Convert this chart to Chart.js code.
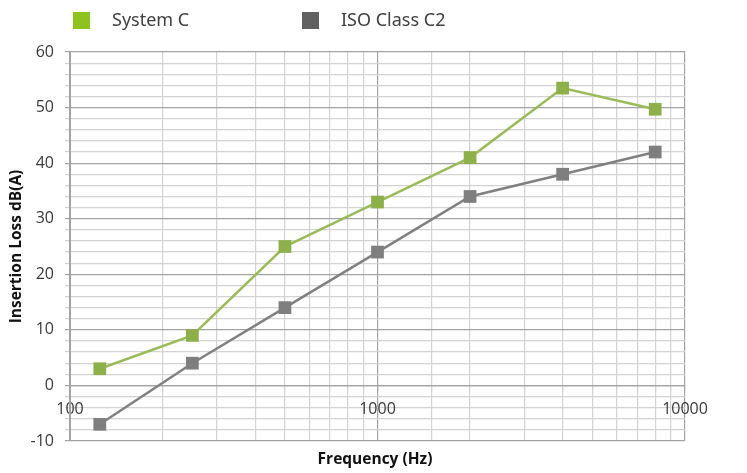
<!DOCTYPE html>
<html>
<head>
<meta charset="utf-8">
<script src="https://cdn.jsdelivr.net/npm/chart.js@4.4.1/dist/chart.umd.min.js"></script>
<style>
  html, body { margin: 0; padding: 0; background: #ffffff; }
  #wrap { width: 747px; height: 473px; position: relative; }
</style>
</head>
<body>
<div id="wrap"><canvas id="chart"></canvas></div>
<script>
// Frequenz (Hz) und Einfügungsdämpfung dB(A)
const frequencies = [125, 250, 500, 1000, 2000, 4000, 8000];
const systemC = [3, 9, 25, 33, 41, 53.5, 49.7];
const isoClassC2 = [-7, 4, 14, 24, 34, 38, 42];
const seriesNames = ["System C", "ISO Class C2"];
const yTickLabels = [-10, 0, 10, 20, 30, 40, 50, 60];
const xTickLabels = [100, 1000, 10000];

const FONT = '"Open Sans", "Noto Sans", Arial, sans-serif';
const TEXT = "#3a3a3a";
const GRID_MAJOR = "#a3a3a3";
const GRID_MINOR = "#d3d3d3";

const toPoints = (vals) => frequencies.map((f, i) => ({ x: f, y: vals[i] }));

// eigene Legende oben links + x-Titel, wie im Original
const legendRow = {
  id: "legendRow",
  afterDraw(chart, args, opts) {
    const ctx = chart.ctx;
    ctx.save();
    chart.data.datasets.forEach((ds, i) => {
      const x = opts.x[i];
      ctx.fillStyle = opts.boxColors[i];
      ctx.fillRect(x, opts.y - 8, 17, 17);
      ctx.fillStyle = opts.color;
      ctx.font = opts.font;
      ctx.textBaseline = "middle";
      ctx.textAlign = "left";
      ctx.fillText(ds.label, x + 39, opts.y + 1);
    });
    ctx.fillStyle = "#111111";
    ctx.font = `bold 15.5px ${FONT}`;
    ctx.textAlign = "center";
    ctx.textBaseline = "middle";
    ctx.fillText(opts.xTitle, 375, 460);
    ctx.restore();
  },
};

new Chart(document.getElementById("chart"), {
  type: "line",
  data: {
    datasets: [
      {
        label: seriesNames[0],
        data: toPoints(systemC),
        borderColor: "#9bbb59",
        backgroundColor: "#8db04a",
        borderWidth: 2.5,
        pointStyle: "rect",
        pointRadius: 9,
        pointBorderWidth: 0,
        pointBackgroundColor: "#8db04a",
        tension: 0,
      },
      {
        label: seriesNames[1],
        data: toPoints(isoClassC2),
        borderColor: "#808080",
        backgroundColor: "#7f7f7f",
        borderWidth: 2.5,
        pointStyle: "rect",
        pointRadius: 9,
        pointBorderWidth: 0,
        pointBackgroundColor: "#7f7f7f",
        tension: 0,
      },
    ],
  },
  options: {
    responsive: true,
    maintainAspectRatio: false,
    animation: false,
    layout: { padding: { top: 52, right: 62, left: 0, bottom: 32 } },
    scales: {
      x: {
        type: "logarithmic",
        min: 100,
        max: 10000,
        position: { y: 0 },
        grid: {
          color: (c) =>
            c.tick && Number.isInteger(Math.log10(c.tick.value)) ? GRID_MAJOR : GRID_MINOR,
          lineWidth: 1.2,
          tickLength: 5,
        },
        border: { color: GRID_MAJOR, width: 1.2 },
        ticks: {
          autoSkip: false,
          maxRotation: 0,
          padding: 9,
          color: TEXT,
          font: { family: FONT, size: 16 },
          callback: (v) => (xTickLabels.includes(v) ? String(v) : ""),
        },
      },
      y: {
        min: -10,
        max: 60,
        afterFit(scale) {
          scale.width = 70;
        },
        grid: {
          color: (c) => (c.tick && c.tick.value % 10 === 0 ? GRID_MAJOR : GRID_MINOR),
          lineWidth: 1.2,
          tickLength: 5,
        },
        border: { color: GRID_MAJOR, width: 2 },
        ticks: {
          stepSize: 2,
          autoSkip: false,
          padding: 11,
          color: TEXT,
          font: { family: FONT, size: 16 },
          callback: (v) => (yTickLabels.includes(v) ? String(v) : ""),
        },
        title: {
          display: true,
          text: "Insertion Loss dB(A)",
          color: "#111111",
          padding: { top: 7, bottom: 0 },
          font: { family: FONT, size: 15.5, weight: "bold" },
        },
      },
    },
    plugins: {
      legend: { display: false },
      tooltip: { enabled: false },
      legendRow: {
        x: [73, 302],
        y: 20,
        boxColors: ["#8dc21f", "#616161"],
        color: "#404040",
        font: '18px "Noto Sans", "Open Sans", sans-serif',
        xTitle: "Frequency (Hz)",
      },
    },
  },
  plugins: [legendRow],
});
</script>
</body>
</html>
